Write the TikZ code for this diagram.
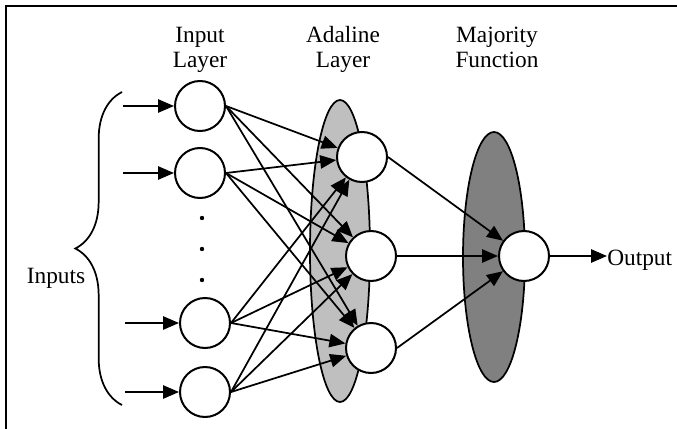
\documentclass[tikz,border=0pt]{standalone}
\usepackage{fontspec}
\setmainfont{Liberation Serif}
\usetikzlibrary{arrows.meta,decorations.pathreplacing}
\colorlet{adalinecol}{black!25}
\colorlet{majoritycol}{black!50}
\tikzstyle{neuron}=[circle,draw,fill=white,line width=1.5pt,minimum size=37.5pt,inner sep=0pt]
\tikzstyle{conn}=[-{Triangle[length=12pt,width=10pt]},line width=1.3pt]
\tikzstyle{lbl}=[align=center,font=\fontsize{17.5}{19}\selectfont,inner sep=0pt]

\begin{document}
\begin{tikzpicture}[x=0.75pt,y=-0.75pt]
  \useasboundingbox (0,0) rectangle (677,428);
  \clip (0,0) rectangle (677,428);
  % outer frame, cut at right and bottom
  \draw[line width=1.8pt] (6,440) rectangle (690,6);
  % layer groups
  \draw[line width=1.3pt,fill=adalinecol] (340,251) ellipse (30 and 151);
  \draw[line width=1.3pt,fill=majoritycol] (494,257) ellipse (31 and 125);
  % titles (base is the last line)
  \node[lbl,anchor=base] (tin) at (200,68) {Input\\Layer};
  \node[lbl,anchor=base] (tada) at (343,68) {Adaline\\Layer};
  \node[lbl,anchor=base] (tmaj) at (497,68) {Majority\\Function};
  % neurons
  \node[neuron] (i1) at (200,106) {};
  \node[neuron] (i2) at (200,173) {};
  \node[neuron] (i3) at (205,323) {};
  \node[neuron] (i4) at (205,392) {};
  \node[neuron] (a1) at (362,157) {};
  \node[neuron] (a2) at (371,256) {};
  \node[neuron] (a3) at (371,348) {};
  \node[neuron] (m) at (524,256) {};
  % omitted inputs
  \foreach \y in {218,249,280}
    \fill (202,\y) circle (2.2);
  % inputs
  \coordinate (x1) at (123,106);
  \coordinate (x2) at (123,173);
  \coordinate (x3) at (125,323);
  \coordinate (x4) at (125,392);
  \foreach \k in {1,...,4}
    \draw[conn] (x\k) -- (i\k);
  \draw[line width=1.3pt,decorate,decoration={brace,amplitude=35}]
    (122,405) -- (122,92);
  \node[lbl,anchor=base] (inputs) at (56,283) {Inputs};
  % input layer to adaline layer
  \foreach \k in {1,...,4}
    \foreach \j in {1,2,3}
      \draw[conn] (i\k.east) -- (a\j);
  % adaline layer to majority function
  \foreach \j in {1,2,3}
    \draw[conn] (a\j.east) -- (m);
  \node[lbl,anchor=base west] (out) at (607,265) {Output};
  \draw[conn] (m.east) -- (out.west |- m.east);
\end{tikzpicture}
\end{document}
